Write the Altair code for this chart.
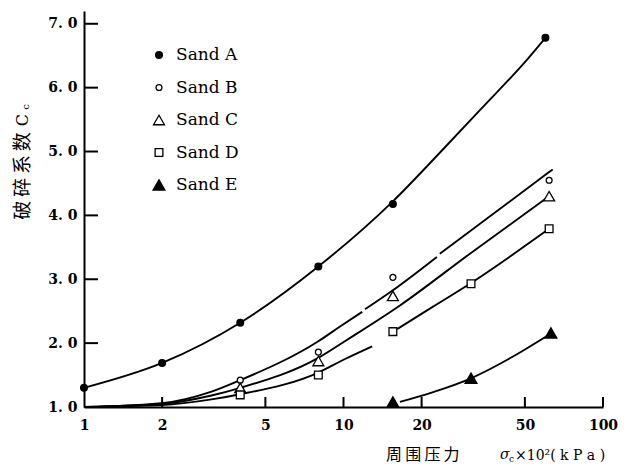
import altair as alt
import pandas as pd

SANDS = ["Sand A", "Sand B", "Sand C", "Sand D", "Sand E"]

# ---- measured points (x = confining pressure x10^2 kPa, y = crushing coefficient)
a_px = [1, 2, 4, 8, 15.5, 60]
a_py = [1.30, 1.69, 2.32, 3.20, 4.18, 6.78]
b_px = [4, 8, 15.5, 62]
b_py = [1.42, 1.86, 3.03, 4.55]
c_px = [4, 8, 15.5, 62]
c_py = [1.30, 1.72, 2.74, 4.30]
d_px = [4, 8, 15.5, 31, 62]
d_py = [1.19, 1.50, 2.18, 2.93, 3.79]
e_px = [15.5, 31, 63]
e_py = [1.08, 1.45, 2.16]

# ---- fitted curves (printed gaps kept as segments)
a_cx = [1, 2, 4, 8, 15.5, 24, 34.5, 51, 60]
a_cy = [1.30, 1.69, 2.32, 3.20, 4.22, 5.02, 5.70, 6.44, 6.78]
b1_cx = [1, 2, 3.1, 4, 8, 9.7, 11.8]
b1_cy = [1.00, 1.06, 1.24, 1.42, 2.03, 2.26, 2.49]
b2_cx = [12.1, 15.4, 22.9]
b2_cy = [2.53, 2.82, 3.35]
b3_cx = [23.5, 27.6, 40, 64]
b3_cy = [3.40, 3.61, 4.10, 4.72]
c_cx = [1, 2, 3.1, 4, 8, 10.3, 16.5, 30.7, 62]
c_cy = [1.00, 1.05, 1.18, 1.30, 1.77, 2.05, 2.59, 3.40, 4.30]
d1_cx = [1, 2, 3.1, 4, 8, 10, 12.9]
d1_cy = [1.00, 1.03, 1.12, 1.20, 1.54, 1.74, 1.95]
d2_cx = [16.1, 21.9, 30.7, 62]
d2_cy = [2.22, 2.56, 2.93, 3.79]
e_cx = [16.5, 22, 31, 45, 63]
e_cy = [1.08, 1.23, 1.45, 1.79, 2.15]

x_ticks = [1, 2, 5, 10, 20, 50, 100]
x_tick_marks = [2, 5, 10, 20, 50, 100]
y_ticks = [1, 2, 3, 4, 5, 6, 7]

# ---- tables
pts = []
for name, xs, ys in zip(SANDS, [a_px, b_px, c_px, d_px, e_px], [a_py, b_py, c_py, d_py, e_py]):
    for x, y in zip(xs, ys):
        pts.append({"x": x, "y": y, "sand": name})
pts = pd.DataFrame(pts)

curves = []
for seg, xs, ys in [("A", a_cx, a_cy), ("B1", b1_cx, b1_cy), ("B2", b2_cx, b2_cy),
                    ("B3", b3_cx, b3_cy), ("C", c_cx, c_cy), ("D1", d1_cx, d1_cy),
                    ("D2", d2_cx, d2_cy), ("E", e_cx, e_cy)]:
    for x, y in zip(xs, ys):
        curves.append({"x": x, "y": y, "seg": seg})
curves = pd.DataFrame(curves)

legend_df = pd.DataFrame({"sand": SANDS})

W, H = 519, 396
SERIF = "DejaVu Serif"
CJK = "Noto Sans CJK SC"

xscale = alt.Scale(type="log", domain=[1, 100], nice=False)
yscale = alt.Scale(domain=[1, 7.2], nice=False, zero=False)

shape_enc = alt.Shape("sand:N", legend=None,
                      scale=alt.Scale(domain=SANDS, range=["circle", "circle", "triangle-up", "square", "triangle-up"]))
fill_enc = alt.Fill("sand:N", legend=None,
                    scale=alt.Scale(domain=SANDS, range=["black", "white", "white", "white", "black"]))
size_enc = alt.Size("sand:N", legend=None,
                    scale=alt.Scale(type="ordinal", domain=SANDS, range=[45, 35, 120, 60, 140]))

xaxis = alt.Axis(values=x_ticks, format="d", ticks=False, grid=False, title=None,
                 labelFont=SERIF, labelFontSize=14, labelFontWeight="bold", labelColor="black",
                 labelPadding=11, domainColor="black", domainWidth=2, labelFlush=False)
yaxis = alt.Axis(values=y_ticks, ticks=False, grid=False, title=None,
                 labelExpr="replace(format(datum.value, '.1f'), '.', '. ')",
                 labelFont=SERIF, labelFontSize=14, labelFontWeight="bold", labelColor="black",
                 labelPadding=7, domainColor="black", domainWidth=2)

lines = alt.Chart(curves).mark_line(color="black", strokeWidth=1.9, interpolate="monotone").encode(
    x=alt.X("x:Q", scale=xscale, axis=xaxis),
    y=alt.Y("y:Q", scale=yscale, axis=yaxis),
    detail="seg:N",
)

points = alt.Chart(pts).mark_point(filled=True, stroke="black", strokeWidth=1.3, opacity=1).encode(
    x=alt.X("x:Q", scale=xscale),
    y=alt.Y("y:Q", scale=yscale),
    shape=shape_enc, fill=fill_enc, size=size_enc,
)

yt = pd.DataFrame({"v": y_ticks})
ytick_rules = alt.Chart(yt).mark_rule(color="black", strokeWidth=2).encode(
    y=alt.Y("v:Q", scale=yscale), x=alt.value(0), x2=alt.value(14))
xt = pd.DataFrame({"v": x_tick_marks})
xtick_rules = alt.Chart(xt).mark_rule(color="black", strokeWidth=2).encode(
    x=alt.X("v:Q", scale=xscale), y=alt.value(H - 10), y2=alt.value(H))

main = alt.layer(lines, points, ytick_rules, xtick_rules)

# ---- legend drawn as its own layer (rows spaced by a point scale)
leg_y = alt.Y("sand:N", axis=None, scale=alt.Scale(domain=SANDS, range=[44, 174], padding=0))
leg_sym = alt.Chart(legend_df).mark_point(filled=True, stroke="black", strokeWidth=1.3, opacity=1).encode(
    x=alt.value(75), y=leg_y, shape=shape_enc, fill=fill_enc, size=size_enc)
leg_txt = alt.Chart(legend_df).mark_text(font=SERIF, fontSize=17, align="left", baseline="middle",
                                         color="black").encode(x=alt.value(92), y=leg_y, text="sand:N")
legend = alt.layer(leg_sym, leg_txt)

def txt(s, x, y, font, size, angle=0, align="center", style="normal"):
    return alt.Chart(pd.DataFrame({"t": [s]})).mark_text(
        font=font, fontSize=size, angle=angle, align=align, baseline="middle",
        color="black", fontStyle=style).encode(text="t:N", x=alt.value(x), y=alt.value(y))

titles = [
    txt("破\u2009碎\u2009系\u2009数", -61, 165, CJK, 19, angle=270),
    txt("C", -61, 109, SERIF, 16, angle=270),
    txt("c", -58, 96, SERIF, 10, angle=270),
    txt("周\u2009围\u2009压\u2009力", 302, 444, CJK, 16, align="left"),
    txt("σ", 416, 444, SERIF, 14, align="left", style="italic"),
    txt("c", 425, 448, SERIF, 9, align="left"),
    txt("×10²( k P a )", 431, 445, SERIF, 14, align="left"),
]

chart = alt.layer(main, legend, *titles).resolve_scale(y="independent").properties(
    width=W, height=H,
    autosize=alt.AutoSizeParams(type="none"),
    padding={"left": 76, "top": 3, "right": 18, "bottom": 58},
    background="white",
).configure_view(stroke=None)

chart.save("out.html", embed_options={"renderer": "svg", "actions": False})
